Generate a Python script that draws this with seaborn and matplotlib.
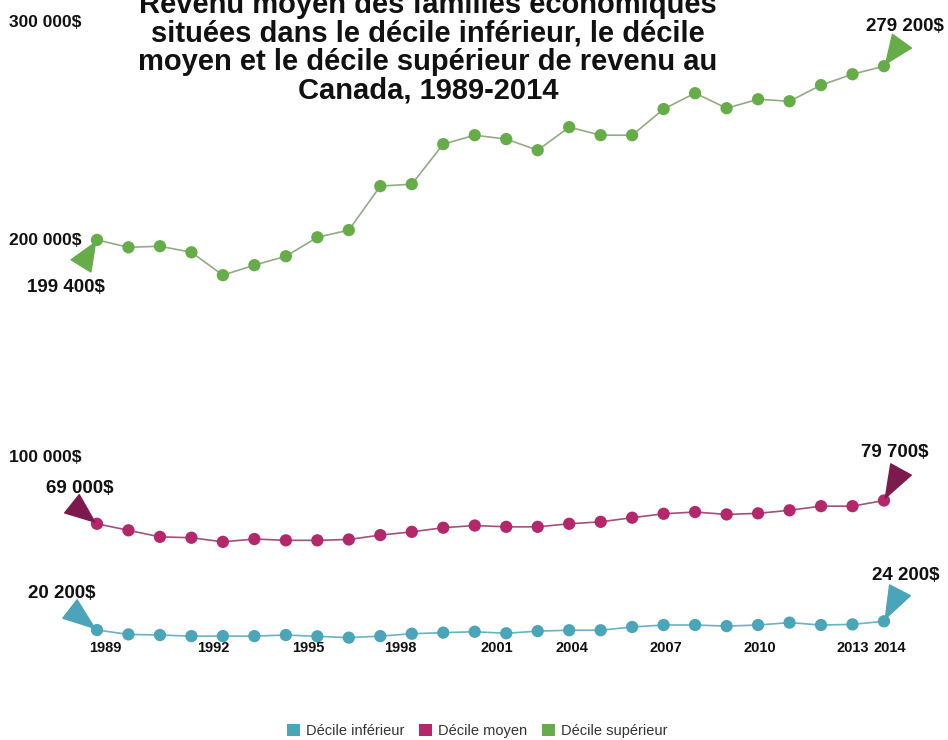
import matplotlib
matplotlib.use("Agg")
import matplotlib.pyplot as plt
import matplotlib.transforms as mtransforms
import seaborn as sns
import pandas as pd
from matplotlib.patches import Patch

years = list(range(1989, 2015))
inferieur = [20.2, 18.2, 17.9, 17.4, 17.4, 17.4, 17.9, 17.3, 16.7, 17.4, 18.5, 19.0, 19.4,
             18.7, 19.7, 20.1, 20.1, 21.6, 22.5, 22.5, 22.0, 22.5, 23.6, 22.5, 22.8, 24.2]
moyen = [69.0, 66.0, 63.0, 62.6, 60.7, 62.0, 61.4, 61.4, 61.8, 63.8, 65.3, 67.2, 68.2,
         67.6, 67.6, 69.0, 69.9, 71.8, 73.6, 74.4, 73.3, 73.8, 75.2, 77.1, 77.1, 79.7]
superieur = [199.4, 196.0, 196.5, 193.7, 183.2, 187.8, 191.9, 200.6, 203.9, 224.1, 225.0, 243.4, 247.5,
             245.7, 240.6, 251.2, 247.5, 247.5, 259.5, 266.8, 259.9, 264.0, 263.1, 270.5, 275.5, 279.2]
series_names = ["Décile inférieur", "Décile moyen", "Décile supérieur"]
xtick_years = [1989, 1992, 1995, 1998, 2001, 2004, 2007, 2010, 2013, 2014]
ytick_vals = [100000, 200000, 300000]
ytick_labels = ["100 000$", "200 000$", "300 000$"]
title = ("Revenu moyen des familles économiques\n"
         "situées dans le décile inférieur, le décile\n"
         "moyen et le décile supérieur de revenu au\n"
         "Canada, 1989-2014")

point_colors = {"Décile inférieur": "#4aa5b8", "Décile moyen": "#b3286b", "Décile supérieur": "#66ad4a"}
line_colors = {"Décile inférieur": "#6ab3c2", "Décile moyen": "#a0527a", "Décile supérieur": "#93ab85"}
tri_colors = {"Décile inférieur": "#4aa5b8", "Décile moyen": "#7d1a4d", "Décile supérieur": "#66ad4a"}

rows = []
for name, vals in zip(series_names, [inferieur, moyen, superieur]):
    for y, v in zip(years, vals):
        rows.append({"year": y, "value": v * 1000, "series": name})
df = pd.DataFrame(rows)

sns.set_style("white")
plt.rcParams["font.family"] = ["Liberation Sans", "DejaVu Sans"]

W, H = 948, 740
fig = plt.figure(figsize=(W / 100, H / 100), dpi=100)
x0px, px_per_year = 65.5, 31.48
y_zero_px, px_per_k = 674.0, 2.177
ylo, yhi = 16000, 300000
ax_bottom_px = y_zero_px - ylo / 1000 * px_per_k
ax_top_px = y_zero_px - yhi / 1000 * px_per_k
ax = fig.add_axes([x0px / W, (H - ax_bottom_px) / H, 27 * px_per_year / W,
                   (ax_bottom_px - ax_top_px) / H])

sns.lineplot(data=df, x="year", y="value", hue="series", palette=line_colors,
             linewidth=1.2, legend=False, ax=ax, zorder=2)
sns.scatterplot(data=df, x="year", y="value", hue="series", palette=point_colors,
                s=78, edgecolor="none", legend=False, ax=ax, zorder=3)
for c in ax.collections:
    c.set_clip_on(False)

ax.set_xlim(1988, 2015)
ax.set_ylim(ylo, yhi)
ax.set_xlabel("")
ax.set_ylabel("")
ax.set_xticks(xtick_years)
ax.set_xticklabels([str(y) for y in xtick_years], fontsize=10.5, fontweight="bold", color="#111111")
ax.set_yticks(ytick_vals)
ax.set_yticklabels(ytick_labels, fontsize=12.5, fontweight="bold", color="#111111", ha="left")
ax.tick_params(axis="x", length=0, pad=1)
ax.tick_params(axis="y", length=0, pad=41)
for s in ax.spines.values():
    s.set_visible(False)
ax.grid(False)

label_shift = {1989: 8, 1992: 22, 1995: 22, 1998: 20, 2001: 22, 2004: 3, 2007: 2, 2010: 2, 2013: 0, 2014: 6}
for lab, yr in zip(ax.get_xticklabels(), xtick_years):
    lab.set_transform(lab.get_transform() +
                      mtransforms.ScaledTranslation(label_shift[yr] / 100, 0, fig.dpi_scale_trans))

def fmt(v):
    s = f"{int(round(v * 1000)):,}".replace(",", " ")
    return s + "$"

ann = [
    ("Décile supérieur", superieur, 0, (-16, -26), (-31, -48)),
    ("Décile supérieur", superieur, -1, (18, 25), (21, 40)),
    ("Décile moyen", moyen, 0, (-25, 20), (-17, 35)),
    ("Décile moyen", moyen, -1, (17, 31), (11, 48)),
    ("Décile inférieur", inferieur, 0, (-27, 21), (-35, 37)),
    ("Décile inférieur", inferieur, -1, (16, 31), (22, 46)),
]
for name, vals, idx, toff, loff in ann:
    xv = years[idx]
    yv = vals[idx] * 1000
    ax.annotate("", xy=(xv, yv), xytext=(toff[0] * 0.72, toff[1] * 0.72), textcoords="offset points",
                arrowprops=dict(arrowstyle="wedge,tail_width=1.2,shrink_factor=0.5",
                                fc=tri_colors[name], ec=tri_colors[name], shrinkA=0, shrinkB=2,
                                mutation_scale=14), annotation_clip=False)
    ax.annotate(fmt(vals[idx]), xy=(xv, yv), xytext=(loff[0] * 0.72, loff[1] * 0.72),
                textcoords="offset points", ha="center", va="center", fontsize=13.5,
                fontweight="bold", color="#111111", annotation_clip=False)

fig.text(428 / W, 1 - 47.5 / H, title, ha="center", va="center", fontsize=21,
         fontweight="bold", color="#111111", linespacing=1.03)

handles = [Patch(facecolor=point_colors[n], edgecolor="none", label=n) for n in series_names]
fig.legend(handles=handles, loc="center", bbox_to_anchor=(477 / W, 1 - 731 / H), ncol=3,
           frameon=False, fontsize=10.5, handlelength=0.9, handleheight=0.9, handletextpad=0.4,
           columnspacing=1.0, labelcolor="#333333")

fig.savefig("out.png", dpi=100)
